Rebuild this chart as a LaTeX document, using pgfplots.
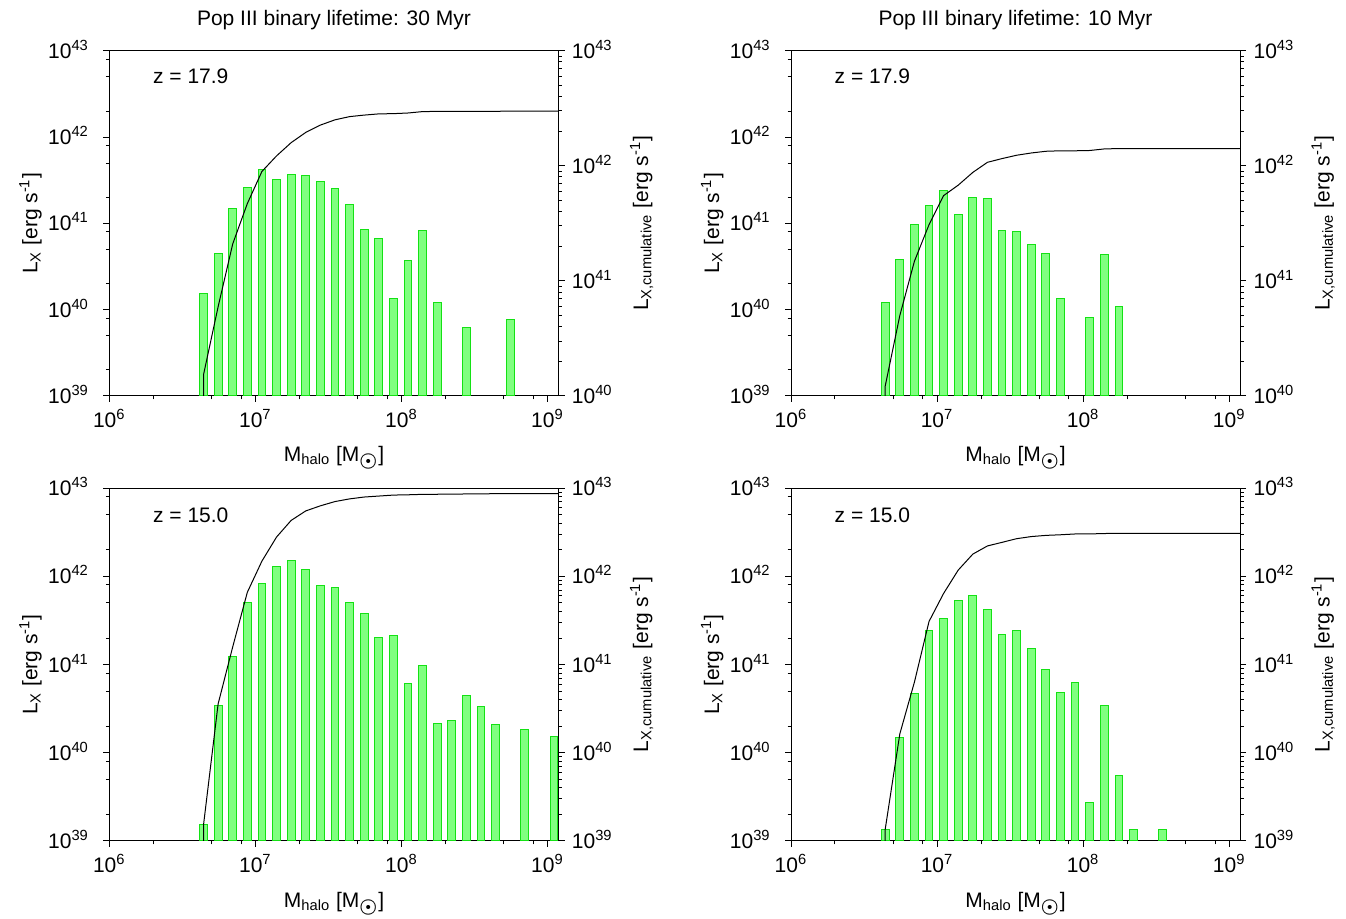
\documentclass[border=0pt]{standalone}
\usepackage{fontspec}
\setmainfont{Liberation Sans}
\usepackage{pgfplots}
\pgfplotsset{compat=1.18}
\definecolor{barfill}{RGB}{128,255,128}
\definecolor{baredge}{RGB}{20,225,20}
\newcommand{\fs}{\fontsize{10.5pt}{12.6pt}\selectfont}
\newcommand{\msun}{M\textsubscript{\fontsize{10pt}{10pt}\selectfont\boldmath$\odot$}}
\pgfplotsset{
  mybaseax/.style={scale only axis, width=224.6pt,
    xmin=1e6, xmax=1.19e9, tick align=outside,
    major tick length=3pt, minor tick length=1.7pt,
    every tick/.style={black, line width=0.5pt},
    axis line style={line width=0.5pt},
    ticklabel style={font=\fs}},
  myleftax/.style={mybaseax, ymin=1e39, ymax=1e43, xtick pos=bottom, ytick pos=left,
    xtick={1e6,1e7,1e8,1e9},
    xticklabels={10\textsuperscript{6},10\textsuperscript{7},10\textsuperscript{8},10\textsuperscript{9}},
    minor xtick={2e6,5e6,8e6,2e7,5e7,8e7,2e8,5e8,8e8},
    ytick={1e39,1e40,1e41,1e42,1e43},
    yticklabels={10\textsuperscript{39},10\textsuperscript{40},10\textsuperscript{41},10\textsuperscript{42},10\textsuperscript{43}},
    minor ytick={2e39,5e39,8e39,2e40,5e40,8e40,2e41,5e41,8e41,2e42,5e42,8e42},
    yticklabel style={anchor=base east, yshift=-3.75pt, xshift=-3.5pt}},
  myrighttop/.style={mybaseax, axis x line=none, axis y line*=right, ytick pos=right,
    ymin=1e40, ymax=1e43,
    ytick={1e40,1e41,1e42,1e43},
    yticklabels={10\textsuperscript{40},10\textsuperscript{41},10\textsuperscript{42},10\textsuperscript{43}},
    minor ytick={2e40,3e40,4e40,5e40,6e40,7e40,8e40,9e40,2e41,3e41,4e41,5e41,6e41,7e41,8e41,9e41,2e42,3e42,4e42,5e42,6e42,7e42,8e42,9e42},
    yticklabel style={anchor=base west, yshift=-3.75pt}},
  myrightbot/.style={mybaseax, axis x line=none, axis y line*=right, ytick pos=right,
    ymin=1e39, ymax=1e43,
    ytick={1e39,1e40,1e41,1e42,1e43},
    yticklabels={10\textsuperscript{39},10\textsuperscript{40},10\textsuperscript{41},10\textsuperscript{42},10\textsuperscript{43}},
    minor ytick={2e39,3e39,4e39,5e39,6e39,7e39,8e39,9e39,2e40,3e40,4e40,5e40,6e40,7e40,8e40,9e40,2e41,3e41,4e41,5e41,6e41,7e41,8e41,9e41,2e42,3e42,4e42,5e42,6e42,7e42,8e42,9e42},
    yticklabel style={anchor=base west, yshift=-3.75pt}},
  mybars/.style={ybar, bar width=3.9pt, bar shift=0pt, fill=barfill, draw=baredge, line width=0.5pt},
  mycum/.style={black, no markers, line width=0.5pt}
}
\begin{document}
\fs
\begin{tikzpicture}
\useasboundingbox (0,0) rectangle (673pt,-459pt);
% ---------------- top left ----------------
\begin{loglogaxis}[myleftax, log origin=infty, height=172.6pt, at={(54.65pt,-198pt)}, anchor=south west]
\addplot[mybars] coordinates {
(4.416e6,1.53e40) (5.559e6,4.43e40) (6.998e6,1.50e41) (8.810e6,2.60e41)
(1.109e7,4.24e41) (1.396e7,3.25e41) (1.758e7,3.71e41) (2.213e7,3.61e41)
(2.786e7,3.08e41) (3.508e7,2.51e41) (4.416e7,1.67e41) (5.559e7,8.38e40)
(6.998e7,6.71e40) (8.810e7,1.34e40) (1.109e8,3.71e40) (1.396e8,8.23e40)
(1.758e8,1.20e40) (2.786e8,6.14e39) (5.559e8,7.67e39)};
\end{loglogaxis}
\begin{loglogaxis}[myrighttop, height=172.6pt, at={(54.65pt,-198pt)}, anchor=south west]
\addplot[mycum] coordinates {
(4.416e6,1e38) (4.416e6,1.53e40) (5.559e6,5.96e40) (6.998e6,2.096e41) (8.810e6,4.696e41)
(1.109e7,8.936e41) (1.396e7,1.219e42) (1.758e7,1.590e42) (2.213e7,1.951e42)
(2.786e7,2.259e42) (3.508e7,2.510e42) (4.416e7,2.677e42) (5.559e7,2.760e42)
(6.998e7,2.828e42) (8.810e7,2.841e42) (1.109e8,2.878e42) (1.396e8,2.960e42)
(1.758e8,2.972e42) (2.213e8,2.972e42) (2.786e8,2.978e42) (3.508e8,2.978e42)
(4.416e8,2.978e42) (5.559e8,2.986e42) (6.998e8,2.986e42) (8.810e8,2.986e42)
(1.109e9,2.986e42) (1.19e9,2.986e42)};
\end{loglogaxis}
% ---------------- top right ----------------
\begin{loglogaxis}[myleftax, log origin=infty, height=172.6pt, at={(395.5pt,-198pt)}, anchor=south west]
\addplot[mybars] coordinates {
(4.416e6,1.22e40) (5.559e6,3.78e40) (6.998e6,9.82e40) (8.810e6,1.60e41)
(1.109e7,2.43e41) (1.396e7,1.28e41) (1.758e7,1.98e41) (2.213e7,1.96e41)
(2.786e7,8.23e40) (3.508e7,8.01e40) (4.416e7,5.72e40) (5.559e7,4.47e40)
(6.998e7,1.36e40) (1.109e8,8.16e39) (1.396e8,4.31e40) (1.758e8,1.08e40)};
\end{loglogaxis}
\begin{loglogaxis}[myrighttop, height=172.6pt, at={(395.5pt,-198pt)}, anchor=south west]
\addplot[mycum] coordinates {
(4.416e6,1e38) (4.416e6,1.22e40) (5.559e6,5.00e40) (6.998e6,1.482e41) (8.810e6,3.082e41)
(1.109e7,5.512e41) (1.396e7,6.792e41) (1.758e7,8.772e41) (2.213e7,1.073e42)
(2.786e7,1.156e42) (3.508e7,1.236e42) (4.416e7,1.293e42) (5.559e7,1.338e42)
(6.998e7,1.351e42) (8.810e7,1.351e42) (1.109e8,1.359e42) (1.396e8,1.402e42)
(1.758e8,1.413e42) (2.213e8,1.413e42) (4.416e8,1.413e42) (8.810e8,1.413e42)
(1.19e9,1.413e42)};
\end{loglogaxis}
% ---------------- bottom left ----------------
\begin{loglogaxis}[myleftax, log origin=infty, height=176.4pt, at={(54.65pt,-420.5pt)}, anchor=south west]
\addplot[mybars] coordinates {
(4.416e6,1.52e39) (5.559e6,3.43e40) (6.998e6,1.23e41) (8.810e6,5.01e41)
(1.109e7,8.29e41) (1.396e7,1.30e42) (1.758e7,1.52e42) (2.213e7,1.21e42)
(2.786e7,7.87e41) (3.508e7,7.41e41) (4.416e7,5.09e41) (5.559e7,3.79e41)
(6.998e7,2.02e41) (8.810e7,2.11e41) (1.109e8,6.14e40) (1.396e8,9.82e40)
(1.758e8,2.14e40) (2.213e8,2.32e40) (2.786e8,4.45e40) (3.508e8,3.37e40)
(4.416e8,2.09e40) (6.998e8,1.85e40) (1.109e9,1.54e40)};
\end{loglogaxis}
\begin{loglogaxis}[myrightbot, height=176.4pt, at={(54.65pt,-420.5pt)}, anchor=south west]
\addplot[mycum] coordinates {
(4.416e6,1e37) (4.416e6,1.52e39) (5.559e6,3.58e40) (6.998e6,1.588e41) (8.810e6,6.598e41)
(1.109e7,1.489e42) (1.396e7,2.789e42) (1.758e7,4.309e42) (2.213e7,5.519e42)
(2.786e7,6.306e42) (3.508e7,7.047e42) (4.416e7,7.556e42) (5.559e7,7.935e42)
(6.998e7,8.137e42) (8.810e7,8.348e42) (1.109e8,8.409e42) (1.396e8,8.507e42)
(1.758e8,8.529e42) (2.213e8,8.552e42) (2.786e8,8.597e42) (3.508e8,8.630e42)
(4.416e8,8.651e42) (5.559e8,8.651e42) (6.998e8,8.670e42) (8.810e8,8.670e42)
(1.109e9,8.685e42) (1.19e9,8.685e42)};
\end{loglogaxis}
% ---------------- bottom right ----------------
\begin{loglogaxis}[myleftax, log origin=infty, height=176.4pt, at={(395.5pt,-420.5pt)}, anchor=south west]
\addplot[mybars] coordinates {
(4.416e6,1.36e39) (5.559e6,1.50e40) (6.998e6,4.69e40) (8.810e6,2.45e41)
(1.109e7,3.33e41) (1.396e7,5.37e41) (1.758e7,6.11e41) (2.213e7,4.24e41)
(2.786e7,2.17e41) (3.508e7,2.45e41) (4.416e7,1.51e41) (5.559e7,8.77e40)
(6.998e7,4.81e40) (8.810e7,6.19e40) (1.109e8,2.72e39) (1.396e8,3.43e40)
(1.758e8,5.46e39) (2.213e8,1.36e39) (3.508e8,1.36e39)};
\end{loglogaxis}
\begin{loglogaxis}[myrightbot, height=176.4pt, at={(395.5pt,-420.5pt)}, anchor=south west]
\addplot[mycum] coordinates {
(4.416e6,1e37) (4.416e6,1.36e39) (5.559e6,1.636e40) (6.998e6,6.326e40) (8.810e6,3.083e41)
(1.109e7,6.413e41) (1.396e7,1.178e42) (1.758e7,1.789e42) (2.213e7,2.213e42)
(2.786e7,2.430e42) (3.508e7,2.675e42) (4.416e7,2.826e42) (5.559e7,2.914e42)
(6.998e7,2.962e42) (8.810e7,3.024e42) (1.109e8,3.027e42) (1.396e8,3.061e42)
(1.758e8,3.067e42) (2.213e8,3.068e42) (2.786e8,3.068e42) (3.508e8,3.069e42)
(6.998e8,3.069e42) (1.19e9,3.069e42)};
\end{loglogaxis}
% ---------------- texts ----------------
\node[anchor=base] at (167pt,-12.5pt) {Pop III binary lifetime: 30 Myr};
\node[anchor=base] at (507.75pt,-12.5pt) {Pop III binary lifetime: 10 Myr};
\node[anchor=base west, inner sep=0pt] at (76.35pt,-41.65pt) {z = 17.9};
\node[anchor=base west, inner sep=0pt] at (417.15pt,-41.65pt) {z = 17.9};
\node[anchor=base west, inner sep=0pt] at (76.35pt,-261.15pt) {z = 15.0};
\node[anchor=base west, inner sep=0pt] at (417.15pt,-261.15pt) {z = 15.0};
\foreach \xx in {167pt,507.75pt}{
  \node[anchor=base] at (\xx,-230.5pt) {M\textsubscript{halo} [\msun]};
  \node[anchor=base] at (\xx,-453.5pt) {M\textsubscript{halo} [\msun]};
}
\foreach \xx in {18.65pt,359.5pt}{
  \node[rotate=90, anchor=base, inner sep=0pt] at (\xx,-111.7pt) {L\textsubscript{X} [erg s\textsuperscript{-1}]};
  \node[rotate=90, anchor=base, inner sep=0pt] at (\xx,-332.3pt) {L\textsubscript{X} [erg s\textsuperscript{-1}]};
}
\foreach \xx in {324pt,664.8pt}{
  \node[rotate=90, anchor=base, inner sep=0pt] at (\xx,-111.7pt) {L\textsubscript{X,cumulative} [erg s\textsuperscript{-1}]};
  \node[rotate=90, anchor=base, inner sep=0pt] at (\xx,-332.3pt) {L\textsubscript{X,cumulative} [erg s\textsuperscript{-1}]};
}
\end{tikzpicture}
\end{document}
